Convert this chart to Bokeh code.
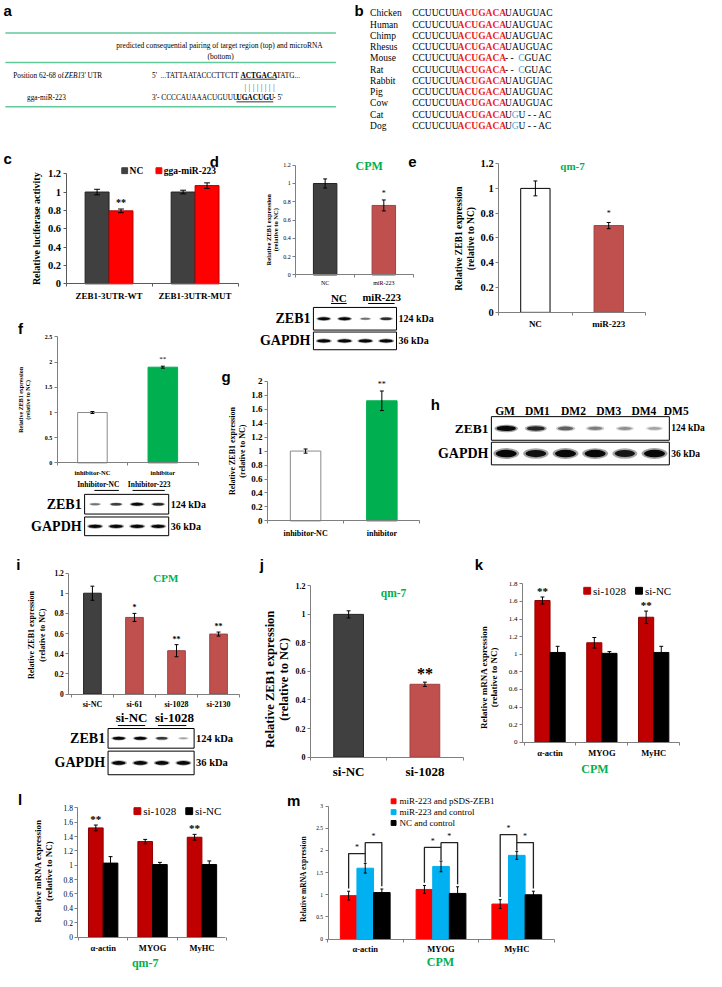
import math
from bokeh.plotting import figure
from bokeh.models import Range1d, LinearAxis, FixedTicker
from bokeh.core.properties import value
from bokeh.embed import file_html
from bokeh.resources import INLINE

# ============================== DATA ==============================
# (a) predicted pairing
a_header = ["predicted consequential pairing of target region (top) and microRNA", "(bottom)"]
a_target_label = ["Position 62-68 of ", "ZEB1", " 3' UTR"]
a_target_seq = ["5'  ", "...TATTAATACCCTTCTT", "ACTGACA", "TATG..."]
a_mirna_label = "gga-miR-223"
a_mirna_seq = ["3'- CCCCAUAAACUGUUU", "UGACUGU", "  - 5'"]
a_pairing = "| | | | | | | |"

# (b) seed conservation
b_species = ["Chicken", "Human", "Chimp", "Rhesus", "Mouse", "Rat", "Rabbit", "Pig", "Cow", "Cat", "Dog"]
b_prefix = "CCUUCUU"
b_seed = "ACUGACA"
T_FULL = [("UAUGUAC", False)]
T_ROD = [(" - - ", False), ("C", True), ("GUAC", False)]
T_CAR = [("U", False), ("G", True), ("U - - AC", False)]
b_tail = [T_FULL, T_FULL, T_FULL, T_FULL, T_ROD, T_ROD, T_FULL, T_FULL, T_FULL, T_CAR, T_CAR]

# (c) luciferase
c_cats = ["ZEB1-3UTR-WT", "ZEB1-3UTR-MUT"]
c_series = ["NC", "gga-miR-223"]
c_nc = [1.00, 1.00]
c_nc_err = [0.03, 0.02]
c_mir = [0.795, 1.07]
c_mir_err = [0.02, 0.03]
c_sig = ["**", ""]

# (d) CPM miR-223
d_cats = ["NC", "miR-223"]
d_vals = [1.00, 0.76]
d_err = [0.05, 0.06]
d_sig = ["", "*"]
d_blot_groups = ["NC", "miR-223"]
d_zeb1 = [1.0, 1.0, 0.35, 0.75]
d_gapdh = [1.0, 1.0, 1.0, 1.0]

# (e) qm-7 miR-223
e_cats = ["NC", "miR-223"]
e_vals = [1.00, 0.70]
e_err = [0.06, 0.025]
e_sig = ["", "*"]

# (f) CPM inhibitor
f_cats = ["inhibitor-NC", "inhibitor"]
f_vals = [1.00, 1.90]
f_err = [0.02, 0.02]
f_sig = ["", "**"]
f_blot_groups = ["Inhibitor-NC", "Inhibitor-223"]
f_zeb1 = [0.35, 0.65, 1.0, 0.8]
f_gapdh = [1.0, 1.0, 1.0, 1.0]

# (g) qm-7 inhibitor
g_cats = ["inhibitor-NC", "inhibitor"]
g_vals = [1.00, 1.72]
g_err = [0.03, 0.14]
g_sig = ["", "**"]

# (h) differentiation time course
h_lanes = ["GM", "DM1", "DM2", "DM3", "DM4", "DM5"]
h_zeb1 = [1.0, 0.8, 0.45, 0.3, 0.22, 0.12]
h_gapdh = [1.0, 0.95, 1.0, 1.0, 0.9, 1.0]

# (i) CPM siRNA
i_cats = ["si-NC", "si-61", "si-1028", "si-2130"]
i_vals = [1.00, 0.76, 0.43, 0.595]
i_err = [0.07, 0.04, 0.06, 0.02]
i_sig = ["", "*", "**", "**"]
i_blot_groups = ["si-NC", "si-1028"]
i_zeb1 = [1.0, 1.0, 0.7, 0.12]
i_gapdh = [1.0, 1.0, 1.0, 1.0]

# (j) qm-7 siRNA
j_cats = ["si-NC", "si-1028"]
j_vals = [1.00, 0.51]
j_err = [0.025, 0.015]
j_sig = ["", "**"]

# (k) CPM markers
mk_cats = ["\u03b1-actin", "MYOG", "MyHC"]
k_series = ["si-1028", "si-NC"]
k_si = [1.61, 1.13, 1.42]
k_si_err = [0.04, 0.06, 0.07]
k_nc = [1.02, 1.01, 1.02]
k_nc_err = [0.07, 0.02, 0.07]
k_sig = ["**", "", "**"]

# (l) qm-7 markers
l_si = [1.52, 1.33, 1.39]
l_si_err = [0.04, 0.03, 0.04]
l_nc = [1.03, 1.01, 1.01]
l_nc_err = [0.09, 0.03, 0.05]
l_sig = ["**", "", "**"]

# (m) rescue
m_series = ["miR-223 and pSDS-ZEB1", "miR-223 and control", "NC and control"]
m_red = [0.98, 1.12, 0.79]
m_red_err = [0.10, 0.09, 0.10]
m_blue = [1.60, 1.64, 1.89]
m_blue_err = [0.11, 0.12, 0.09]
m_black = [1.05, 1.03, 1.00]
m_black_err = [0.08, 0.15, 0.08]
m_br_left = [1.93, 2.07, 2.36]
m_br_right = [2.18, 2.18, 2.18]

# tick labels
yt12 = [0, 0.2, 0.4, 0.6, 0.8, 1, 1.2]
yt12_lab = ["0", "0.2", "0.4", "0.6", "0.8", "1", "1.2"]
yt18 = [0, 0.2, 0.4, 0.6, 0.8, 1, 1.2, 1.4, 1.6, 1.8]
yt18_lab = ["0", "0.2", "0.4", "0.6", "0.8", "1", "1.2", "1.4", "1.6", "1.8"]
yt20 = [0, 0.2, 0.4, 0.6, 0.8, 1, 1.2, 1.4, 1.6, 1.8, 2]
yt20_lab = ["0", "0.2", "0.4", "0.6", "0.8", "1", "1.2", "1.4", "1.6", "1.8", "2"]
yt25 = [0, 0.5, 1, 1.5, 2, 2.5]
yt25_lab = ["0", "0.5", "1", "1.5", "2", "2.5"]
yt30 = [0, 0.5, 1, 1.5, 2, 2.5, 3]
yt30_lab = ["0", "0.5", "1", "1.5", "2", "2.5", "3"]

# ============================== STYLE ==============================
SERIF = "Liberation Serif"
SANS = "Liberation Sans"
GREEN = "#00b050"
PURE_RED = "#ff0000"
BRICK = "#c0504d"
DGRAY = "#404040"
DRED = "#c00000"
SKY = "#00b0f0"
VAR = "#33a9e0"
MINT = "#62c99b"
AX = "#7f7f7f"

REF_W, REF_H = 722, 987
p = figure(width=706, height=971, x_range=Range1d(0, REF_W), y_range=Range1d(REF_H, 0),
           x_axis_type=None, y_axis_type=None, output_backend="svg", toolbar_location=None,
           min_border=0, outline_line_color=None, background_fill_color="white",
           border_fill_color="white")

W_REG = dict(zip("ABCDEFGHIJKLMNOPQRSTUVWXYZ",
                 [.722, .667, .667, .722, .611, .556, .722, .722, .333, .389, .722, .611, .889,
                  .722, .722, .556, .722, .667, .556, .611, .722, .722, .944, .722, .722, .611]))
W_REG.update(dict(zip("abcdefghijklmnopqrstuvwxyz",
                      [.444, .5, .444, .5, .444, .333, .5, .5, .278, .278, .5, .278, .778, .5, .5,
                       .5, .5, .333, .389, .278, .5, .5, .722, .5, .5, .444])))
W_REG.update({ch: .5 for ch in "0123456789"})
W_REG.update({" ": .25, ".": .25, "-": .333, "'": .18, "|": .2, "(": .333, ")": .333})
W_BOLD = dict(W_REG)
W_BOLD.update({"A": .722, "C": .722, "G": .778, "T": .667, "U": .722, "D": .722})
W_IT = dict(W_REG)
W_IT.update({"Z": .556, "E": .611, "B": .611})


def text_w(s, style, size):
    tbl = W_BOLD if "bold" in style else (W_IT if "italic" in style else W_REG)
    return sum(tbl.get(ch, .5) for ch in s) * size


def T(x, y, s, size, color="black", style="normal", font=SERIF, align="left",
      baseline="middle", angle=0.0, rn=None):
    kw = rn or {}
    p.text(x=[x], y=[y], text=[s], text_font=value(font), text_font_size=f"{size}px",
           text_font_style=style, text_color=color, text_align=align,
           text_baseline=baseline, angle=angle, **kw)


def run(x, y, parts, size):
    for s, st, col, ul in parts:
        T(x, y, s, size, color=col, style=st)
        w = text_w(s, st, size)
        if ul:
            p.segment(x0=[x], x1=[x + w], y0=[y + 0.55 * size], y1=[y + 0.55 * size],
                      line_color=col, line_width=0.8)
        x += w
    return x


def panel(nm, xc0, kx, y0, ky):
    p.extra_x_ranges[nm + "x"] = Range1d((0 - xc0) / kx, (REF_W - xc0) / kx)
    p.extra_y_ranges[nm + "y"] = Range1d((y0 - REF_H) / ky, y0 / ky)
    return dict(x_range_name=nm + "x", y_range_name=nm + "y")


def y_axis(rn, xloc, ticks, labels, size, style="bold", color=AX, standoff=2):
    ax = LinearAxis(fixed_location=xloc, bounds=(ticks[0], ticks[-1]),
                    ticker=FixedTicker(ticks=ticks, minor_ticks=[]),
                    major_label_overrides=dict(zip(ticks, labels)), **rn)
    ax.axis_line_color = color
    ax.major_tick_line_color = color
    ax.major_tick_in = 0
    ax.major_tick_out = 3
    ax.minor_tick_line_color = None
    ax.major_label_standoff = standoff
    ax.major_label_text_font = SERIF
    ax.major_label_text_font_size = f"{size}px"
    ax.major_label_text_font_style = style
    ax.major_label_text_color = "black"
    p.add_layout(ax, "left")


def x_axis(rn, labels, size, lo=-0.5, hi=None, style="bold", color=AX, standoff=3):
    n = len(labels)
    hi = n - 0.5 if hi is None else hi
    centers = list(range(n))
    ax = LinearAxis(fixed_location=0, bounds=(lo, hi),
                    ticker=FixedTicker(ticks=centers, minor_ticks=[k + 0.5 for k in range(-1, n)]),
                    major_label_overrides=dict(zip(centers, labels)), **rn)
    ax.axis_line_color = color
    ax.major_tick_line_color = None
    ax.major_tick_out = 3
    ax.major_tick_in = 0
    ax.minor_tick_line_color = color
    ax.minor_tick_in = 0
    ax.minor_tick_out = 3
    ax.major_label_standoff = standoff
    ax.major_label_text_font = SERIF
    ax.major_label_text_font_size = f"{size}px"
    ax.major_label_text_font_style = style
    ax.major_label_text_color = "black"
    p.add_layout(ax, "below")


def errbars(rn, xs, tops, errs, cap):
    lo = [t - e for t, e in zip(tops, errs)]
    hi = [t + e for t, e in zip(tops, errs)]
    p.segment(x0=xs, x1=xs, y0=lo, y1=hi, line_color="black", line_width=1, **rn)
    xl = [x - cap / 2 for x in xs]
    xr = [x + cap / 2 for x in xs]
    p.segment(x0=xl, x1=xr, y0=hi, y1=hi, line_color="black", line_width=1, **rn)
    p.segment(x0=xl, x1=xr, y0=lo, y1=lo, line_color="black", line_width=1, **rn)


def stars(rn, xs, tops, errs, sig, size, pad, style="bold"):
    for x, t, e, s in zip(xs, tops, errs, sig):
        if s:
            T(x, t + e + pad, s, size, style=style, align="center", baseline="bottom", rn=rn)


def sq(x, y, color, size=6):
    p.rect(x=[x], y=[y], width=size, height=size, fill_color=color, line_color=color)


def blot(x0, x1, rows, n):
    lane = (x1 - x0) / n
    xs = [x0 + lane * (k + 0.5) for k in range(n)]
    for yt, yb, inten, label, kda, lsize, ksize, bw, bh in rows:
        p.quad(left=[x0], right=[x1], top=[yt], bottom=[yb], fill_color="white",
               line_color="black", line_width=1)
        yc = (yt + yb) / 2
        p.ellipse(x=xs, y=[yc] * n, width=[bw * (0.75 + 0.35 * v) for v in inten],
                  height=[bh * (0.6 + 0.5 * v) for v in inten], fill_color="black",
                  fill_alpha=[0.12 + 0.25 * v for v in inten], line_color=None)
        p.ellipse(x=xs, y=[yc] * n, width=[bw * (0.55 + 0.35 * v) for v in inten],
                  height=[bh * (0.35 + 0.4 * v) for v in inten], fill_color="black",
                  fill_alpha=[0.15 + 0.8 * v for v in inten], line_color=None)
        T(x0 - 3, yc, label, lsize, style="bold", align="right")
        T(x1 + 2, yc, kda, ksize, style="bold")


def ytitle(x, y, s, size):
    T(x, y, s, size, style="bold", align="center", angle=math.pi / 2)


# ============================== PANEL LABELS ==============================
for lab, lx, ly in [("a", 3, 10), ("b", 362, 10), ("c", 3, 161), ("d", 214, 164), ("e", 417, 164),
                    ("f", 18, 333), ("g", 226, 382), ("h", 440, 411), ("i", 16, 573),
                    ("j", 265, 573), ("k", 485, 573), ("l", 18, 812), ("m", 293, 813)]:
    T(lx, ly, lab, 15, style="bold", font=SANS)

# ============================== (a) ==============================
for yy in (33, 63, 108):
    p.segment(x0=[5], x1=[343], y0=[yy], y1=[yy], line_color=MINT, line_width=1.6)
T(224, 46, a_header[0], 7.5, align="center")
T(225, 57, a_header[1], 7.5, align="center")
run(13, 76, [(a_target_label[0], "normal", "black", False),
             (a_target_label[1], "italic", "black", False),
             (a_target_label[2], "normal", "black", False)], 7.3)
run(155, 76, [(a_target_seq[0], "normal", "black", False),
              (a_target_seq[1], "normal", "black", False),
              (a_target_seq[2], "bold", "black", True),
              (a_target_seq[3], "normal", "black", False)], 7.3)
T(265, 87.5, a_pairing, 9, align="center", color="#666666")
T(47, 99, a_mirna_label, 7.3, align="center")
run(155, 99, [(a_mirna_seq[0], "normal", "black", False),
              (a_mirna_seq[1], "bold", "black", True),
              (a_mirna_seq[2], "normal", "black", False)], 7.3)

# ============================== (b) ==============================
for k, sp in enumerate(b_species):
    yy = 13 + 11.45 * k
    T(378, yy, sp, 9.5)
    parts = [(b_prefix, "normal", "black", False), (b_seed, "bold", "#ee1c24", False)]
    parts += [(s, "normal", VAR if v else "black", False) for s, v in b_tail[k]]
    run(421, yy, parts, 9.5)

# ============================== (c) ==============================
rc = panel("c", 111, 88, 288, 93.3)
xc = list(range(len(c_cats)))
x_nc = [x - 0.139 for x in xc]
x_mi = [x + 0.139 for x in xc]
p.vbar(x=x_nc, top=c_nc, width=0.278, fill_color=DGRAY, line_color="#222222", **rc)
p.vbar(x=x_mi, top=c_mir, width=0.278, fill_color=PURE_RED, line_color="#b00000", **rc)
errbars(rc, x_nc, c_nc, c_nc_err, 6 / 88)
errbars(rc, x_mi, c_mir, c_mir_err, 6 / 88)
stars(rc, x_mi, c_mir, c_mir_err, c_sig, 10, 0.01)
y_axis(rc, -0.5, yt12, yt12_lab, 10.5, color="#595959")
x_axis(rc, c_cats, 9, color="#595959", standoff=4)
ytitle(37, 232, "Relative luciferase activity", 10)
sq(127, 173, DGRAY)
T(132, 173, c_series[0], 9.5, style="bold")
sq(162, 173, PURE_RED)
T(167, 173, c_series[1], 9.5, style="bold")

# ============================== (d) ==============================
rd = panel("d", 332, 60, 279, 93)
xd = list(range(len(d_cats)))
p.vbar(x=xd, top=d_vals, width=0.4, fill_color=[DGRAY, BRICK], line_color=["#222222", "#a04040"], **rd)
errbars(rd, xd, d_vals, d_err, 4 / 60)
stars(rd, xd, d_vals, d_err, d_sig, 8, 0.02, style="normal")
y_axis(rd, -0.5, yt12, yt12_lab, 6, style="normal")
x_axis(rd, d_cats, 6, style="normal", standoff=2)
ytitle(274, 233, "Relative ZEB1 expression", 6.5)
ytitle(281, 233, "(relative to NC)", 6.5)
T(377, 168, "CPM", 12, color=GREEN, style="bold", align="center")
T(346, 302, d_blot_groups[0], 11, style="bold", align="center")
T(390, 302, d_blot_groups[1], 10.5, style="bold", align="center")
p.segment(x0=[338, 376], x1=[354, 403], y0=[308, 308], y1=[308, 308], line_color="black", line_width=1)
blot(320, 405, [(312, 335, d_zeb1, "ZEB1", "124 kDa", 14, 10, 14, 4),
                (337, 355, d_gapdh, "GAPDH", "36 kDa", 14, 10, 15, 4.5)], 4)

# ============================== (e) ==============================
re_ = panel("e", 547, 75, 317, 126)
xe = list(range(len(e_cats)))
p.vbar(x=xe, top=e_vals, width=0.4, fill_color=["white", BRICK], line_color=["black", "#a04040"], **re_)
errbars(re_, xe, e_vals, e_err, 4 / 75)
stars(re_, xe, e_vals, e_err, e_sig, 8, 0.04, style="normal")
y_axis(re_, -0.5, yt12, yt12_lab, 10.5)
x_axis(re_, e_cats, 9, standoff=4)
ytitle(469, 242, "Relative ZEB1 expression", 9.5)
ytitle(481, 242, "(relative to NC)", 9.5)
T(585, 168, "qm-7", 11, color=GREEN, style="bold", align="center")

# ============================== (f) ==============================
rf = panel("f", 94, 72, 470, 51.2)
xf = list(range(len(f_cats)))
p.vbar(x=xf, top=f_vals, width=0.42, fill_color=["white", GREEN], line_color=["#8a8a8a", GREEN], **rf)
errbars(rf, xf, f_vals, f_err, 4 / 72)
stars(rf, xf, f_vals, f_err, f_sig, 7, 0.06, style="normal")
y_axis(rf, -0.5, yt25, yt25_lab, 6)
x_axis(rf, f_cats, 6.5, standoff=3)
ytitle(21, 406, "Relative ZEB1 expression", 6)
ytitle(28, 406, "(relative to NC)", 6)
T(100, 492, f_blot_groups[0], 7.5, style="bold", align="center")
T(152, 492, f_blot_groups[1], 7.5, style="bold", align="center")
p.segment(x0=[96, 135], x1=[121, 168], y0=[498, 498], y1=[498, 498], line_color="black", line_width=1)
blot(86, 172, [(502, 522, f_zeb1, "ZEB1", "124 kDa", 14, 10, 14, 4),
               (525, 544, f_gapdh, "GAPDH", "36 kDa", 14, 10, 15, 4.5)], 4)

# ============================== (g) ==============================
rg = panel("g", 312, 78, 529, 71)
xg = list(range(len(g_cats)))
p.vbar(x=xg, top=g_vals, width=0.4, fill_color=["white", GREEN], line_color=["#8a8a8a", GREEN], **rg)
errbars(rg, xg, g_vals, g_err, 4 / 78)
stars(rg, xg, g_vals, g_err, g_sig, 8, 0.03, style="normal")
y_axis(rg, -0.5, yt20, yt20_lab, 9)
x_axis(rg, g_cats, 8, standoff=5)
ytitle(237, 458, "Relative ZEB1 expression", 8)
ytitle(247, 458, "(relative to NC)", 8)

# ============================== (h) ==============================
for lab, hx in zip(h_lanes, [516, 549, 586, 622, 658, 691]):
    T(hx, 417, lab, 11.5, style="bold", align="center")
blot(502, 684, [(423, 447, h_zeb1, "ZEB1", "124 kDa", 13.5, 9.5, 22, 7),
                (449, 472, h_gapdh, "GAPDH", "36 kDa", 14, 9.5, 24, 10)], 6)

# ============================== (i) ==============================
ri = panel("i", 94, 43, 705, 102.5)
xi = list(range(len(i_cats)))
p.vbar(x=xi, top=i_vals, width=0.42, fill_color=[DGRAY, BRICK, BRICK, BRICK],
       line_color=["#222222", "#a04040", "#a04040", "#a04040"], **ri)
errbars(ri, xi, i_vals, i_err, 4 / 43)
stars(ri, xi, i_vals, i_err, i_sig, 8, 0.01)
y_axis(ri, -0.56, yt12, yt12_lab, 7.5)
x_axis(ri, i_cats, 8, lo=-0.56, standoff=3)
ytitle(32, 645, "Relative ZEB1 expression", 8)
ytitle(43, 645, "(relative to NC)", 8)
T(169, 587, "CPM", 11, color=GREEN, style="bold", align="center")
T(134, 729, i_blot_groups[0], 13, style="bold", align="center")
T(178, 729, i_blot_groups[1], 13, style="bold", align="center")
p.segment(x0=[120, 161], x1=[148, 190], y0=[737, 737], y1=[737, 737], line_color="black", line_width=1)
blot(110, 198, [(740, 760, i_zeb1, "ZEB1", "124 kDa", 14, 10.5, 14, 4),
                (763, 787, i_gapdh, "GAPDH", "36 kDa", 14, 10.5, 15, 5)], 4)

# ============================== (j) ==============================
rj = panel("j", 356, 78, 769, 145)
xj = list(range(len(j_cats)))
p.vbar(x=xj, top=j_vals, width=0.39, fill_color=[DGRAY, BRICK], line_color=["#222222", "#a04040"], **rj)
errbars(rj, xj, j_vals, j_err, 4 / 78)
stars(rj, xj, j_vals, j_err, j_sig, 16, 0.0)
y_axis(rj, -0.5, yt12, yt12_lab, 8)
x_axis(rj, j_cats, 13, standoff=4)
ytitle(276, 690, "Relative ZEB1 expression", 12.5)
ytitle(290, 690, "(relative to NC)", 12.5)
T(402, 602, "qm-7", 11.5, color=GREEN, style="bold", align="center")

# ============================== (k) ==============================
rk = panel("k", 562, 53, 754, 89.5)
xm = list(range(len(mk_cats)))
xk1 = [x - 0.146 for x in xm]
xk2 = [x + 0.146 for x in xm]
p.vbar(x=xk1, top=k_si, width=0.292, fill_color=DRED, line_color="#900000", **rk)
p.vbar(x=xk2, top=k_nc, width=0.292, fill_color="black", line_color="black", **rk)
errbars(rk, xk1, k_si, k_si_err, 4 / 53)
errbars(rk, xk2, k_nc, k_nc_err, 4 / 53)
stars(rk, xk1, k_si, k_si_err, k_sig, 11, 0.0)
y_axis(rk, -0.53, yt18, yt18_lab, 7, style="normal")
x_axis(rk, mk_cats, 8.5, lo=-0.53, standoff=3)
ytitle(494, 688, "Relative mRNA expression", 9)
ytitle(505, 688, "(relative to NC)", 9)
T(608, 781, "CPM", 12, color=GREEN, style="bold", align="center")
sq(600, 600, DRED, 7)
T(606, 600, k_series[0], 11)
sq(653, 600, "black", 7)
T(659, 600, k_series[1], 11)

# ============================== (l) ==============================
rl = panel("l", 105, 50.5, 952, 73)
xl1 = [x - 0.149 for x in xm]
xl2 = [x + 0.149 for x in xm]
p.vbar(x=xl1, top=l_si, width=0.297, fill_color=DRED, line_color="#900000", **rl)
p.vbar(x=xl2, top=l_nc, width=0.297, fill_color="black", line_color="black", **rl)
errbars(rl, xl1, l_si, l_si_err, 4 / 50.5)
errbars(rl, xl2, l_nc, l_nc_err, 4 / 50.5)
stars(rl, xl1, l_si, l_si_err, l_sig, 11, 0.0)
y_axis(rl, -0.51, yt18, yt18_lab, 7.5, style="normal")
x_axis(rl, mk_cats, 8.5, lo=-0.51, hi=2.48, standoff=3)
ytitle(38, 885, "Relative mRNA expression", 9)
ytitle(50, 885, "(relative to NC)", 9)
T(148, 978, "qm-7", 12, color=GREEN, style="bold", align="center")
sq(140, 824, DRED, 7)
T(146, 824, k_series[0], 11)
sq(193, 824, "black", 7)
T(199, 824, k_series[1], 11)

# ============================== (m) ==============================
rm = panel("m", 373, 77.5, 954, 45)
xr_ = [x - 0.219 for x in xm]
xb_ = list(xm)
xk_ = [x + 0.219 for x in xm]
p.vbar(x=xr_, top=m_red, width=0.219, fill_color=PURE_RED, line_color=PURE_RED, **rm)
p.vbar(x=xb_, top=m_blue, width=0.219, fill_color=SKY, line_color=SKY, **rm)
p.vbar(x=xk_, top=m_black, width=0.219, fill_color="black", line_color="black", **rm)
errbars(rm, xr_, m_red, m_red_err, 3 / 77.5)
errbars(rm, xb_, m_blue, m_blue_err, 3 / 77.5)
errbars(rm, xk_, m_black, m_black_err, 3 / 77.5)
for g in xm:
    yr0 = m_red[g] + m_red_err[g] + 0.06
    yb0 = m_blue[g] + m_blue_err[g] + 0.02
    yk0 = m_black[g] + m_black_err[g] + 0.06
    h1, h2 = m_br_left[g], m_br_right[g]
    p.multi_line(xs=[[xr_[g], xr_[g], xb_[g]], [xb_[g], xb_[g]], [xb_[g], xk_[g], xk_[g]]],
                 ys=[[yr0, h1, h1], [yb0, max(h1, h2)], [h2, h2, yk0]],
                 line_color="#222222", line_width=1.3, **rm)
    T((xr_[g] + xb_[g]) / 2, h1 + 0.03, "*", 8, align="center", baseline="bottom", rn=rm)
    T((xb_[g] + xk_[g]) / 2, h2 + 0.03, "*", 8, align="center", baseline="bottom", rn=rm)
y_axis(rm, -0.49, yt30, yt30_lab, 5.5, style="normal")
x_axis(rm, mk_cats, 8.5, lo=-0.49, standoff=2)
ytitle(310, 893, "Relative mRNA expression", 7.5)
T(450, 977, "CPM", 12, color=GREEN, style="bold", align="center")
for k, (lab, col) in enumerate(zip(m_series, [PURE_RED, SKY, "black"])):
    sq(402, 814 + 11 * k, col, 5)
    T(408, 814 + 11 * k, lab, 9)

open("out.html", "w").write(file_html(p, INLINE))
